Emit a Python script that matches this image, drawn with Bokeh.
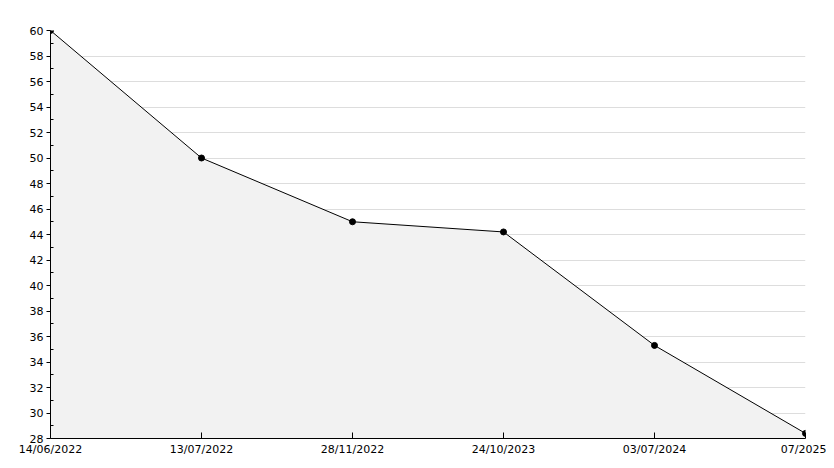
from bokeh.plotting import figure
from bokeh.models import FixedTicker, Range1d
from bokeh.embed import file_html
from bokeh.resources import INLINE

dates = ["14/06/2022", "13/07/2022", "28/11/2022", "24/10/2023", "03/07/2024", "07/2025"]
values = [60, 50, 45, 44.2, 35.3, 28.4]
y_ticks = list(range(28, 61, 2))
y_minor = list(range(29, 60, 2))
y_min, y_max = 28, 60

xs = list(range(len(dates)))

p = figure(width=826, height=460, output_backend="svg", toolbar_location=None,
           x_range=Range1d(xs[0], xs[-1]), y_range=Range1d(y_min, y_max),
           min_border_left=50, min_border_right=21, min_border_top=30, min_border_bottom=22)
p.outline_line_color = None
p.background_fill_color = "white"
p.border_fill_color = "white"

p.varea(x=xs, y1=[y_min] * len(xs), y2=values, fill_color="#f2f2f2")
p.line(xs, values, line_color="black", line_width=1)
p.scatter(xs, values, size=6, marker="circle", color="black")

p.xgrid.grid_line_color = None
p.ygrid.grid_line_color = "#dddddd"
p.ygrid.grid_line_width = 1

xa = p.xaxis[0]
xa.ticker = FixedTicker(ticks=xs)
xa.major_label_overrides = {i: d for i, d in enumerate(dates)}
xa.major_tick_in = 6
xa.major_tick_out = 0
xa.minor_tick_line_color = None
xa.major_label_standoff = 4

ya = p.yaxis[0]
ya.ticker = FixedTicker(ticks=y_ticks, minor_ticks=y_minor)
ya.major_tick_in = 0
ya.major_tick_out = 4
ya.minor_tick_in = 3
ya.minor_tick_out = 0
ya.major_label_standoff = 3

for ax in (xa, ya):
    ax.major_label_text_font = "DejaVu Sans"
    ax.major_label_text_font_size = "11px"
    ax.major_label_text_color = "black"
    ax.axis_line_color = "black"
    ax.major_tick_line_color = "black"

ya.minor_tick_line_color = "black"

open("out.html", "w").write(file_html(p, INLINE))
